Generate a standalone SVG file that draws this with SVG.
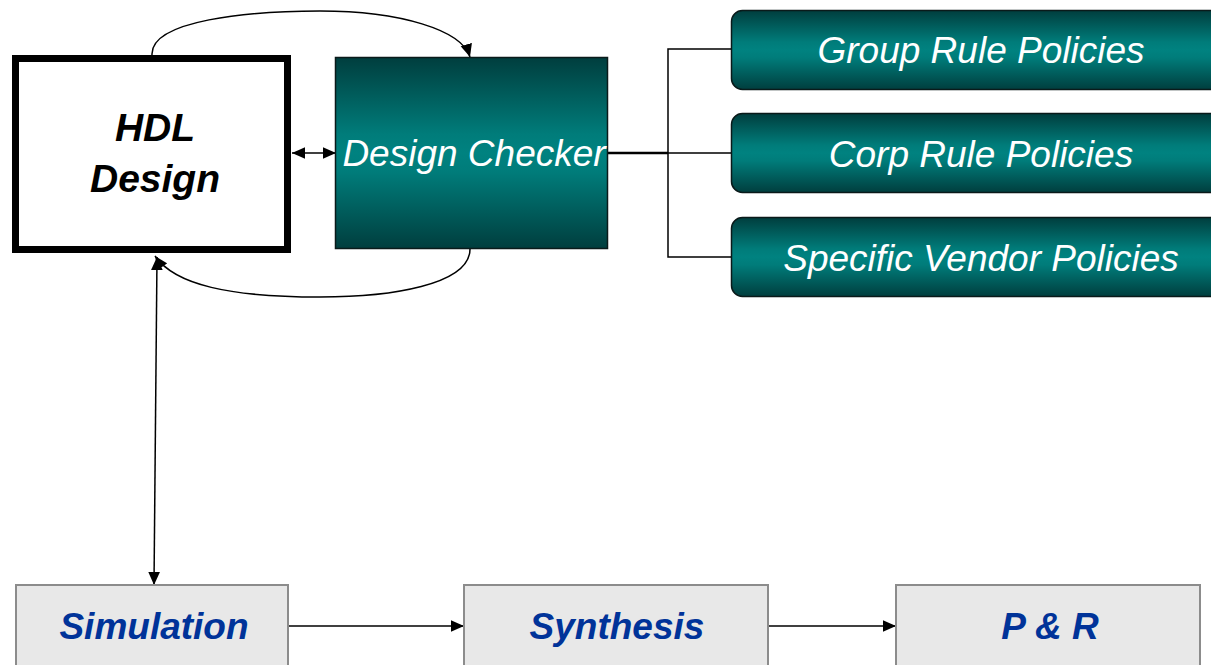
<svg xmlns="http://www.w3.org/2000/svg" width="1211" height="665" viewBox="0 0 1211 665">
<defs>
<linearGradient id="teal" x1="0" y1="0" x2="0" y2="1">
<stop offset="0" stop-color="#003e3e"/>
<stop offset="0.4" stop-color="#007c7a"/>
<stop offset="0.5" stop-color="#008280"/>
<stop offset="0.6" stop-color="#007c7a"/>
<stop offset="1" stop-color="#003e3e"/>
</linearGradient>
<marker id="ahL" viewBox="0 0 10 10" refX="10" refY="5" markerWidth="13" markerHeight="13" markerUnits="userSpaceOnUse" orient="auto-start-reverse">
<path d="M0,0.5 L10,5 L0,9.5 z" fill="#000"/>
</marker>
</defs>
<style>
.teal{fill:url(#teal);stroke:#0a1a1a;stroke-width:1.5}
.tw{font-family:"Liberation Sans",Arial,sans-serif;font-style:italic;font-size:37px;fill:#fff;text-anchor:middle}
.gray{fill:#e8e8e8;stroke:#8c8c8c;stroke-width:2}
.bt{font-family:"Liberation Sans",Arial,sans-serif;font-style:italic;font-weight:bold;font-size:37px;fill:#003399;text-anchor:middle}
.ln{fill:none;stroke:#000;stroke-width:1.5}
</style>
<g id="connectors">
<path class="ln" d="M152,55 C150,20 250,11 320,11 C400,11 462,30 470,57" marker-end="url(#ahL)"/>
<path class="ln" d="M470,249 C470,285 390,297 320,297 C230,297 175,285 155,256" marker-end="url(#ahL)"/>
<line class="ln" x1="157" y1="257" x2="154" y2="585" marker-start="url(#ahL)" marker-end="url(#ahL)"/>
<line class="ln" x1="292" y1="153" x2="336" y2="153" stroke-width="2" marker-start="url(#ahL)" marker-end="url(#ahL)"/>
<line x1="608" y1="153" x2="668" y2="153" stroke="#000" stroke-width="2.5"/>
<path class="ln" d="M731,49 H668 V257 H731 M668,153 H731"/>
<line class="ln" x1="288" y1="626" x2="464" y2="626" stroke-width="2" marker-end="url(#ahL)"/>
<line class="ln" x1="768" y1="626" x2="896" y2="626" stroke-width="2" marker-end="url(#ahL)"/>
</g>
<g id="hdl">
<rect x="15.5" y="58.5" width="272" height="191" fill="#fff" stroke="#000" stroke-width="7"/>
<text font-family="Liberation Sans,Arial,sans-serif" font-style="italic" font-weight="bold" font-size="39" text-anchor="middle" fill="#000"><tspan x="155" y="141">HDL</tspan><tspan x="155" y="192">Design</tspan></text>
</g>
<g id="checker">
<rect class="teal" x="335.5" y="57.5" width="272" height="191"/>
<text class="tw" x="474" y="166">Design Checker</text>
</g>
<g id="group">
<rect class="teal" x="731.5" y="10.5" width="500" height="79" rx="11"/>
<text class="tw" x="981" y="63">Group Rule Policies</text>
</g>
<g id="corp">
<rect class="teal" x="731.5" y="113.5" width="500" height="79" rx="11"/>
<text class="tw" x="981" y="167">Corp Rule Policies</text>
</g>
<g id="vendor">
<rect class="teal" x="731.5" y="217.5" width="500" height="79" rx="11"/>
<text class="tw" x="981" y="271">Specific Vendor Policies</text>
</g>
<g id="simulation">
<rect class="gray" x="16" y="585" width="272" height="90"/>
<text class="bt" x="154" y="639">Simulation</text>
</g>
<g id="synthesis">
<rect class="gray" x="464" y="585" width="304" height="90"/>
<text class="bt" x="617" y="639">Synthesis</text>
</g>
<g id="pr">
<rect class="gray" x="896" y="585" width="304" height="90"/>
<text class="bt" x="1050" y="639">P &amp; R</text>
</g>
</svg>
